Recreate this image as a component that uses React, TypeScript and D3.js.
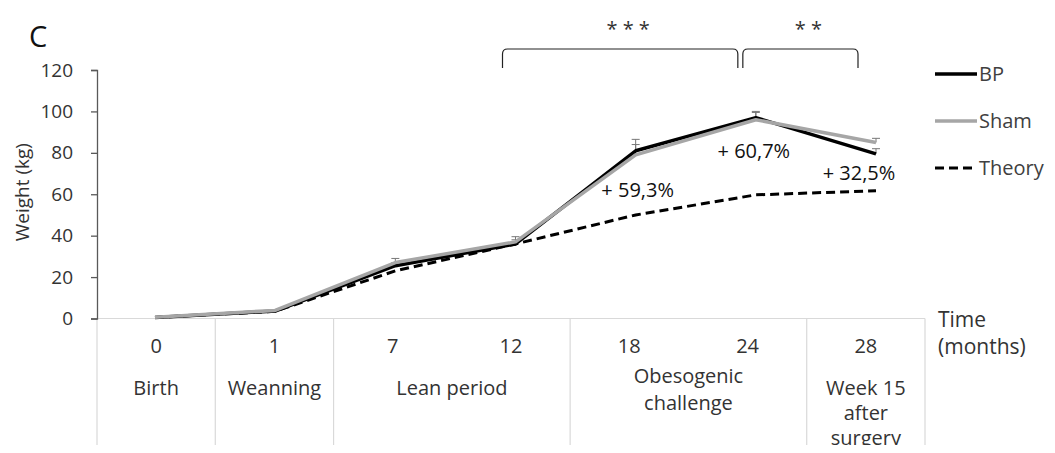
import { useEffect, useRef } from 'react';
import { select, scaleLinear, scalePoint, scaleBand, line, axisLeft } from 'd3';

const months = ['0', '1', '7', '12', '18', '24', '28'];
const bp = [0.5, 3.6, 25.5, 36, 81, 97, 79.5];
const sham = [0.6, 3.9, 27, 37, 79, 96, 85];
const theory = [0.5, 3.5, 23, 36, 50, 59.7, 61.7];
const bpErr = [0, 0, 1.5, 2, 5.5, 3, 2.5];
const shamErr = [0, 0, 2, 2.5, 5, 3.5, 2];
const yTicks = [0, 20, 40, 60, 80, 100, 120];

// periods below the axis: first and last category index
const periods = [
  { from: 0, to: 0, lines: ['Birth'] },
  { from: 1, to: 1, lines: ['Weanning'] },
  { from: 2, to: 3, lines: ['Lean period'] },
  { from: 4, to: 5, lines: ['Obesogenic', 'challenge'] },
  { from: 6, to: 6, lines: ['Week 15', 'after', 'surgery'] },
];

const brackets = [
  { from: 3, to: 5, label: '***' },
  { from: 5, to: 6, label: '**' },
];

// gain labels, placed next to a point of a series
const gains = [
  { at: 4, series: 'theory', text: '+ 59,3%', dx: 2, dy: -18 },
  { at: 5, series: 'bp', text: '+ 60,7%', dx: -2, dy: 40 },
  { at: 6, series: 'theory', text: '+ 32,5%', dx: -17, dy: -11 },
];

const legend = [
  { name: 'BP', color: '#000', width: 3.5, dash: null },
  { name: 'Sham', color: '#a6a6a6', width: 3.5, dash: null },
  { name: 'Theory', color: '#000', width: 3, dash: '9,5' },
];

export default function App() {
  const svgRef = useRef<SVGSVGElement>(null);

  useEffect(() => {
    if (!svgRef.current) return;
    const svg = select(svgRef.current);
    svg.selectAll('*').remove();

    const width = 1055;
    const height = 453;
    const font = "'Open Sans', sans-serif";
    const textColor = '#333';
    const series: Record<string, number[]> = { bp, sham, theory };

    svg.attr('width', width).attr('height', height);

    const y = scaleLinear().domain([0, 120]).range([318.5, 70]);
    const x = scalePoint<string>().domain(months).range([155, 876]);
    const band = scaleBand<string>().domain(months).range([97, 925]).padding(0);

    // panel letter
    svg.append('text').attr('x', 29).attr('y', 47).text('C')
      .style('font-family', font).style('font-size', '29px').attr('fill', '#111');

    // table grid lines
    const grid = svg.append('g').attr('stroke', '#d9d9d9').attr('stroke-width', 1.2);
    grid.append('line').attr('x1', band.range()[0]).attr('x2', band.range()[1])
      .attr('y1', y(0)).attr('y2', y(0));
    const bounds = [band(months[0])!, ...periods.map(p => band(months[p.to])! + band.bandwidth())];
    bounds.forEach(b => {
      grid.append('line').attr('x1', b).attr('x2', b).attr('y1', y(0)).attr('y2', height);
    });

    // y axis
    const yAxis = svg.append('g').attr('transform', `translate(${band.range()[0]},0)`)
      .call(axisLeft(y).tickValues(yTicks).tickSize(6).tickPadding(18) as any);
    yAxis.select('.domain').attr('stroke', '#595959').attr('stroke-width', 1.3);
    yAxis.selectAll('line').attr('stroke', '#595959').attr('stroke-width', 1.3);
    yAxis.selectAll('text').style('font-family', font).style('font-size', '19px').attr('fill', textColor);

    svg.append('text').attr('transform', `translate(29,${y(61)}) rotate(-90)`)
      .attr('text-anchor', 'middle').text('Weight (kg)')
      .style('font-family', font).style('font-size', '19px').attr('fill', textColor);

    // category ticks and period names
    svg.append('g').selectAll('text').data(months).join('text')
      .attr('x', d => band(d)! + band.bandwidth() / 2).attr('y', 353)
      .attr('text-anchor', 'middle').text(d => d)
      .style('font-family', font).style('font-size', '20px').attr('fill', textColor);

    periods.forEach(p => {
      const cx = (band(months[p.from])! + band(months[p.to])! + band.bandwidth()) / 2;
      const top = p.lines.length === 2 ? 383 : 395;
      const step = p.lines.length === 2 ? 26.5 : 25;
      p.lines.forEach((t, i) => {
        svg.append('text').attr('x', cx).attr('y', top + i * step).attr('text-anchor', 'middle').text(t)
          .style('font-family', font).style('font-size', '20px').attr('fill', textColor);
      });
    });

    svg.append('text').attr('x', 938).attr('y', 327).text('Time')
      .style('font-family', font).style('font-size', '21px').attr('fill', textColor);
    svg.append('text').attr('x', 938).attr('y', 354).text('(months)')
      .style('font-family', font).style('font-size', '21px').attr('fill', textColor);

    // lines
    const mk = line<number>().x((_, i) => x(months[i])!).y(d => y(d));
    const plot = svg.append('g');

    const drawErr = (vals: number[], errs: number[], color: string) => {
      vals.forEach((v, i) => {
        if (!errs[i]) return;
        const cx = x(months[i])!;
        plot.append('line').attr('x1', cx).attr('x2', cx).attr('y1', y(v)).attr('y2', y(v + errs[i]))
          .attr('stroke', color).attr('stroke-width', 1);
        plot.append('line').attr('x1', cx - 4).attr('x2', cx + 4).attr('y1', y(v + errs[i])).attr('y2', y(v + errs[i]))
          .attr('stroke', color).attr('stroke-width', 1);
      });
    };
    drawErr(sham, shamErr, '#777');
    drawErr(bp, bpErr, '#777');

    plot.append('path').attr('d', mk(theory)).attr('fill', 'none').attr('stroke', '#000')
      .attr('stroke-width', 3).attr('stroke-dasharray', '9,5');
    plot.append('path').attr('d', mk(bp)).attr('fill', 'none').attr('stroke', '#000')
      .attr('stroke-width', 3.5).attr('stroke-linejoin', 'round');
    plot.append('path').attr('d', mk(sham)).attr('fill', 'none').attr('stroke', '#a6a6a6')
      .attr('stroke-width', 3.5).attr('stroke-linejoin', 'round');

    // significance brackets
    brackets.forEach(b => {
      const x0 = x(months[b.from])! - 13;
      const x1 = x(months[b.to])! - 18;
      const top = 49;
      const bot = 68;
      const r = 5;
      svg.append('path')
        .attr('d', `M${x0},${bot} L${x0},${top + r} Q${x0},${top} ${x0 + r},${top} L${x1 - r},${top} Q${x1},${top} ${x1},${top + r} L${x1},${bot}`)
        .attr('fill', 'none').attr('stroke', '#222').attr('stroke-width', 1.2);
      svg.append('text').attr('x', (x0 + x1) / 2 + 8).attr('y', 36).attr('text-anchor', 'middle')
        .text(b.label.split('').join(' '))
        .style('font-family', font).style('font-size', '20px').attr('fill', textColor);
    });

    // percentage annotations
    gains.forEach(g => {
      const v = series[g.series][g.at];
      svg.append('text').attr('x', x(months[g.at])! + g.dx).attr('y', y(v) + g.dy)
        .attr('text-anchor', 'middle').text(g.text)
        .style('font-family', font).style('font-size', '20px').attr('fill', '#111');
    });

    // legend
    legend.forEach((l, i) => {
      const ly = 74 + i * 47;
      svg.append('line').attr('x1', 935).attr('x2', 977).attr('y1', ly).attr('y2', ly)
        .attr('stroke', l.color).attr('stroke-width', l.width)
        .attr('stroke-dasharray', l.dash ?? null);
      svg.append('text').attr('x', 979).attr('y', ly + 7).text(l.name)
        .style('font-family', font).style('font-size', '20px').attr('fill', '#404040');
    });
  }, []);

  return (
    <div style={{ margin: -8 }}>
      <svg ref={svgRef} style={{ display: 'block', background: '#fff' }} />
    </div>
  );
}
